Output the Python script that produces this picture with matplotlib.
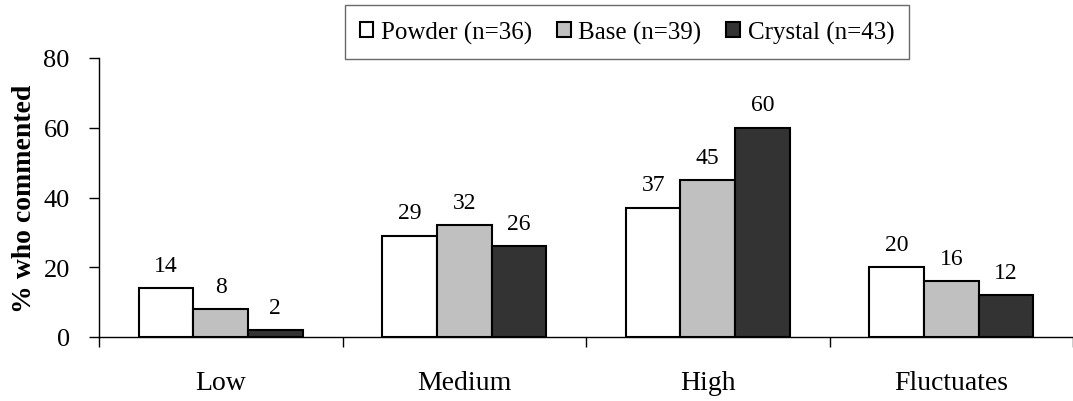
import matplotlib.pyplot as plt
import numpy as np
from matplotlib.patches import Patch

categories = ["Low", "Medium", "High", "Fluctuates"]
series_names = ["Powder (n=36)", "Base (n=39)", "Crystal (n=43)"]
powder = [14, 29, 37, 20]
base = [8, 32, 45, 16]
crystal = [2, 26, 60, 12]
y_ticks = [0, 20, 40, 60, 80]

colors = ["#ffffff", "#c0c0c0", "#333333"]

plt.rcParams["font.family"] = ["Liberation Serif", "DejaVu Serif"]

fig = plt.figure(figsize=(10.73, 4.02), dpi=100)
ax = fig.add_axes([99 / 1073, 64 / 402, 974 / 1073, 279 / 402])

x = np.arange(len(categories))
width = 0.224
for i, (vals, color) in enumerate(zip([powder, base, crystal], colors)):
    pos = x + (i - 1) * width
    ax.bar(pos, vals, width, color=color, edgecolor="black", linewidth=1.5, zorder=3)
    for px, v in zip(pos, vals):
        ax.annotate(str(v), (px, v), xytext=(0, 9), textcoords="offset points",
                    ha="center", va="bottom", fontsize=17)

ax.set_ylim(0, 80)
ax.set_yticks(y_ticks)
ax.tick_params(axis="y", labelsize=19, length=7, width=1, pad=14)
# category boundaries get tick marks, names sit on minor ticks at the centres
ax.set_xlim(-0.5, 3.5 - 8 / 245.5)
ax.set_xticks(np.arange(len(categories) + 1) - 0.5)
ax.set_xticklabels([])
ax.tick_params(axis="x", which="major", length=7, width=1)
ax.set_xticks(x, minor=True)
ax.set_xticklabels(categories, minor=True)
ax.tick_params(axis="x", which="minor", length=0, labelsize=20, pad=24)

for side in ["top", "right"]:
    ax.spines[side].set_visible(False)
ax.spines["left"].set_linewidth(1)
ax.spines["bottom"].set_linewidth(1)

ax.set_ylabel("% who commented", fontsize=20, fontweight="bold", labelpad=5)

handles = [Patch(facecolor=c, edgecolor="black", linewidth=1.5) for c in colors]
leg = fig.legend(handles, series_names, loc="center",
                 bbox_to_anchor=(627 / 1073, 1 - 33 / 402), ncol=3, fontsize=18,
                 frameon=True, fancybox=False, edgecolor="#444444",
                 handlelength=0.55, handleheight=0.55, handletextpad=0.3,
                 columnspacing=1.0, borderpad=0.6)
leg.get_frame().set_linewidth(1)

fig.savefig("out.png", dpi=100)
